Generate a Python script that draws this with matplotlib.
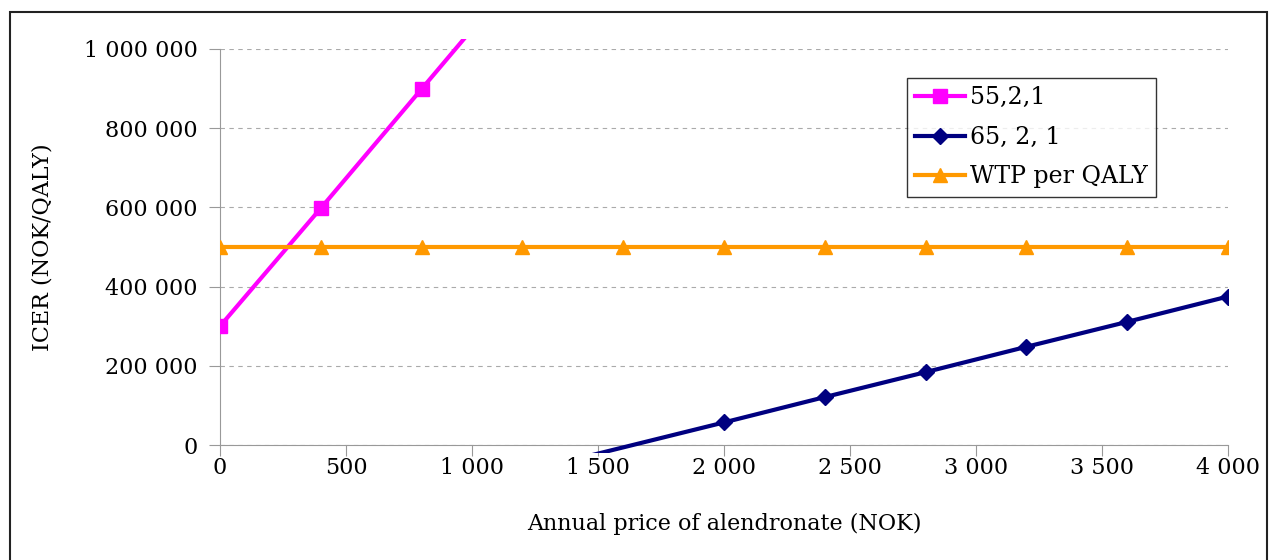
import numpy as np
import matplotlib
matplotlib.use("Agg")
import matplotlib.pyplot as plt
from matplotlib.ticker import FuncFormatter, MultipleLocator
from matplotlib.transforms import Bbox, TransformedBbox
from matplotlib.patches import Rectangle

price = [0, 400, 800, 1200, 1600, 2000, 2400, 2800, 3200, 3600, 4000]
icer_55 = [300000, 598000, 899000, 1200000]
icer_65 = [-69000, -6000, 57000, 121000, 184000, 248000, 311000, 375000]
price_65 = price[3:]
wtp = [500000] * len(price)

series = [
    ("55,2,1", price[:4], icer_55, "#FF00FF", "s"),
    ("65, 2, 1", price_65, icer_65, "#000080", "D"),
    ("WTP per QALY", price, wtp, "#FF9900", "^"),
]

plt.rcParams["font.family"] = ["DejaVu Serif"]

fig = plt.figure(figsize=(12.76, 5.6), dpi=100)
ax = fig.add_axes([220 / 1276, 115 / 560, 1008 / 1276, 396 / 560])

ymin, ymax = 0, 1000000
# line may spill a few pixels past the plot area, like the original
clip = TransformedBbox(Bbox([[0, -0.02], [1, 1.025]]), ax.transAxes)
handles = []
for name, xs, ys, col, mk in series:
    xs = np.array(xs)
    ys = np.array(ys)
    ln, = ax.plot(xs, ys, color=col, lw=3, zorder=3)
    ln.set_clip_box(clip)
    ok = (ys >= ymin) & (ys <= ymax)
    ax.plot(xs[ok], ys[ok], ls="none", marker=mk, color=col,
            ms=10 if mk != "D" else 8, zorder=4)
    h, = ax.plot([], [], color=col, lw=3, marker=mk,
                 ms=10 if mk != "D" else 8)
    handles.append((h, name))

ax.set_xlim(0, 4000)
ax.set_ylim(ymin, ymax)
ax.xaxis.set_major_locator(MultipleLocator(500))
ax.yaxis.set_major_locator(MultipleLocator(200000))
fmt = FuncFormatter(lambda v, p: format(int(v), ",").replace(",", " "))
ax.xaxis.set_major_formatter(fmt)
ax.yaxis.set_major_formatter(fmt)

for s in ["top", "right"]:
    ax.spines[s].set_visible(False)
for s in ["left", "bottom"]:
    ax.spines[s].set_color("#999999")
ax.tick_params(axis="y", color="#999999", length=8, pad=8, labelsize=16)
ax.tick_params(axis="x", color="#999999", length=8, pad=1, labelsize=16)
ax.grid(axis="y", color="#AAAAAA", ls=(0, (4, 4)), lw=0.8)
ax.set_axisbelow(True)

ax.set_xlabel("Annual price of alendronate (NOK)", fontsize=16)
ax.set_ylabel("ICER (NOK/QALY)", fontsize=16)
ax.xaxis.set_label_coords(0.5, -0.172)
ax.yaxis.set_label_coords(-0.165, 0.5)

leg = ax.legend([h for h, _ in handles], [n for _, n in handles],
                loc="upper left", bbox_to_anchor=(687 / 1008, 1 - 29 / 396),
                fontsize=17, frameon=True, fancybox=False, borderaxespad=0,
                handlelength=2.1, handletextpad=0.2, labelspacing=0.7,
                borderpad=0.35)
leg.get_frame().set_edgecolor("black")
leg.get_frame().set_linewidth(1)

fig.patches.append(Rectangle((10 / 1276, -0.1), 1257 / 1276, 1.1 - 12 / 560,
                             transform=fig.transFigure, fill=False,
                             edgecolor="#222222", lw=1.5))

fig.savefig("out.png", dpi=100)
